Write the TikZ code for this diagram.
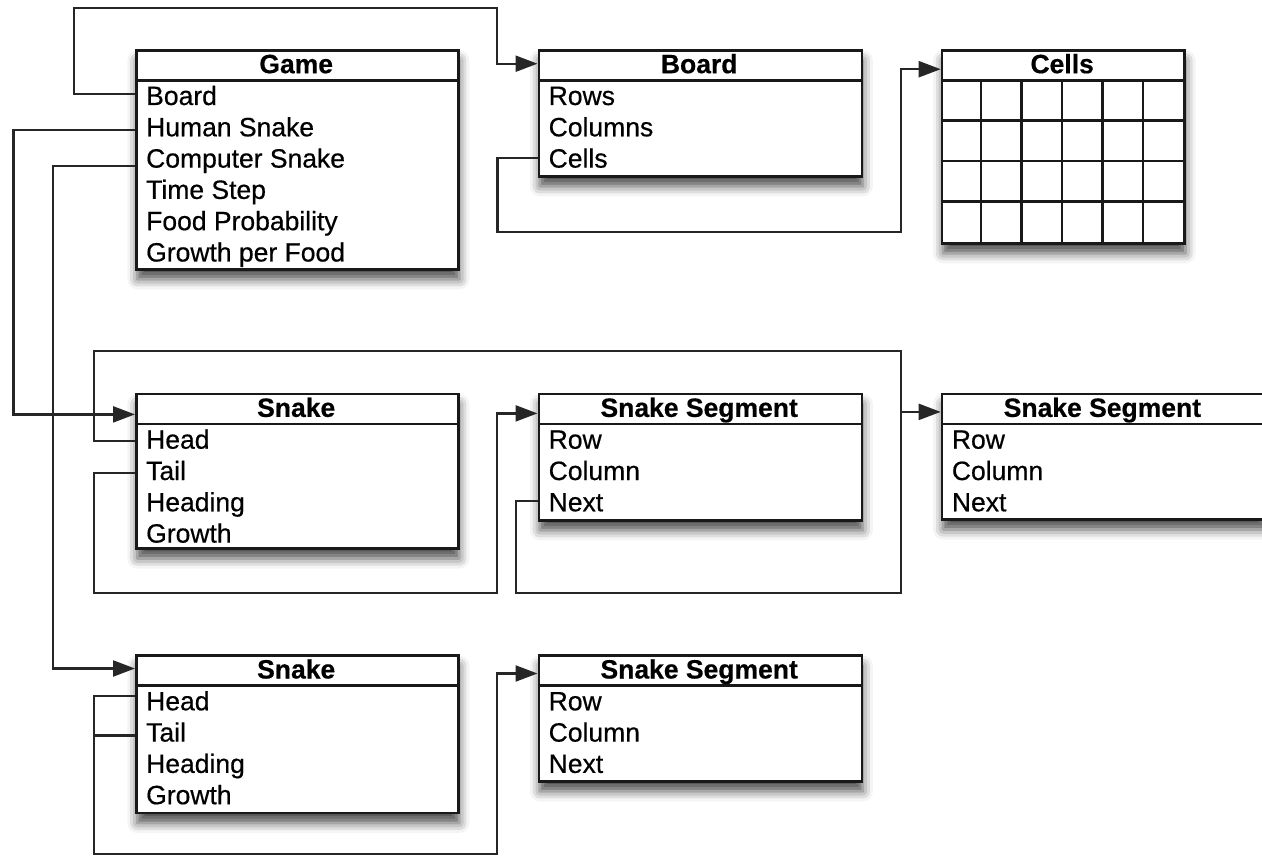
\documentclass[tikz,border=0pt]{standalone}
\usepackage{fontspec}
\setmainfont{Liberation Sans}[FakeBold=0.5]
\usetikzlibrary{arrows.meta,calc,shadows.blur}

\tikzset{
 umlbox/.style={draw=black!90, line width=2.6pt, fill=white, inner sep=0pt, anchor=north west,
   blur shadow={shadow xshift=1pt, shadow yshift=-10pt, shadow blur radius=10pt, shadow opacity=70}},
 umlhead/.style={inner sep=0pt, anchor=north west, minimum height=31pt, text height=20.5pt, text depth=3.5pt,
   font=\fontsize{26.5}{30}\selectfont\bfseries},
 rowtext/.style={inner sep=0pt, anchor=base west, text height=19pt, text depth=5pt,
   font=\fontsize{26.5}{30}\selectfont},
 boxline/.style={draw=black!90, line width=2.6pt},
 conn/.style={draw=black!85, line width=2.3pt},
 arr/.style={conn, -{Triangle[length=22pt,width=16pt]}},
}

% name, x, y, width, height, title
\newcommand\umlbox[6]{%
 \node[umlbox, minimum width=#4pt, minimum height=#5pt] (#1) at (#2,#3) {};
 \node[umlhead, minimum width=#4pt] (#1-h) at (#1.north west) {#6};
 \draw[boxline] (#1-h.south west) -- (#1-h.south east);
}
% box name, row number, text
\newcommand\umlrow[3]{%
 \node[rowtext] (#1-#2) at ($(#1.north west)+(11,{56+31.3*(#2-1)})$) {#3};
}

\begin{document}
\begin{tikzpicture}[x=1pt,y=-1pt]
\useasboundingbox (0,0) rectangle (1262,856);

% Game
\umlbox{game}{135}{49}{322}{219}{Game}
\umlrow{game}{1}{Board}
\umlrow{game}{2}{Human Snake}
\umlrow{game}{3}{Computer Snake}
\umlrow{game}{4}{Time Step}
\umlrow{game}{5}{Food Probability}
\umlrow{game}{6}{Growth per Food}

% Board
\umlbox{board}{537.5}{49}{323}{126}{Board}
\umlrow{board}{1}{Rows}
\umlrow{board}{2}{Columns}
\umlrow{board}{3}{Cells}

% Cells
\umlbox{cells}{940.7}{49}{242.5}{193}{Cells}
\foreach \k in {1,...,5}{
  \draw[boxline] ($(cells-h.south west)+({40.42*\k},0)$) -- ($(cells.south west)+({40.42*\k},0)$);
}
\foreach \k in {1,2,3}{
  \draw[boxline] ($(cells-h.south west)+(0,{40.3*\k})$) -- ($(cells-h.south east)+(0,{40.3*\k})$);
}

% Snake (human)
\umlbox{snakea}{135}{392.7}{322}{154.5}{Snake}
\umlrow{snakea}{1}{Head}
\umlrow{snakea}{2}{Tail}
\umlrow{snakea}{3}{Heading}
\umlrow{snakea}{4}{Growth}

% Snake Segment (middle)
\umlbox{sega}{537.5}{392.7}{323}{126.3}{Snake Segment}
\umlrow{sega}{1}{Row}
\umlrow{sega}{2}{Column}
\umlrow{sega}{3}{Next}

% Snake Segment (right)
\umlbox{segb}{940.7}{392.7}{323}{125.5}{Snake Segment}
\umlrow{segb}{1}{Row}
\umlrow{segb}{2}{Column}
\umlrow{segb}{3}{Next}

% Snake (computer)
\umlbox{snakeb}{135}{654.3}{322}{157.4}{Snake}
\umlrow{snakeb}{1}{Head}
\umlrow{snakeb}{2}{Tail}
\umlrow{snakeb}{3}{Heading}
\umlrow{snakeb}{4}{Growth}

% Snake Segment (bottom)
\umlbox{segc}{537.5}{654.3}{323}{125.7}{Snake Segment}
\umlrow{segc}{1}{Row}
\umlrow{segc}{2}{Column}
\umlrow{segc}{3}{Next}

% connectors
\draw[arr] ($(game.west|-game-1)+(0,-4)$) -| (74,8) -| ($(board-h.west)+(-40.5,-1)$) -- ($(board-h.west)+(0,-1)$);
\draw[arr] ($(game.west|-game-2)+(0,0.7)$) -| ($(snakea-h.west)+(-121.5,6)$) -- ($(snakea-h.west)+(0,6)$);
\draw[arr] ($(game.west|-game-3)+(0,5.4)$) -| ($(snakeb-h.west)+(-82,-1.5)$) -- ($(snakeb-h.west)+(0,-1.5)$);
\draw[arr] ($(board.west|-board-3)+(0,-2.6)$) -| (497.5,232) -| ($(cells-h.west)+(-40,4.5)$) -- ($(cells-h.west)+(0,4.5)$);

\coordinate (jn) at ($(segb-h.west)+(-40,3.5)$);
\draw[arr] ($(snakea.west|-snakea-1)+(0,-0.8)$) -| (94,351) -| (jn) -- ($(segb-h.west)+(0,3.5)$);
\draw[arr] (snakea.west|-snakea-2) -| (94,592.7) -| ($(sega-h.west)+(-40.5,5)$) -- ($(sega-h.west)+(0,5)$);
\draw[conn] ($(sega.west|-sega-3)+(0,-3.3)$) -| (516,593) -| (jn);

\draw[arr] ($(snakeb.west|-snakeb-1)+(0,-7.6)$) -| (94,854) -| ($(segc-h.west)+(-40.5,3.5)$) -- ($(segc-h.west)+(0,3.5)$);
\draw[conn] ($(snakeb.west|-snakeb-2)+(0,1)$) -- ++(-41,0);
\end{tikzpicture}
\end{document}
